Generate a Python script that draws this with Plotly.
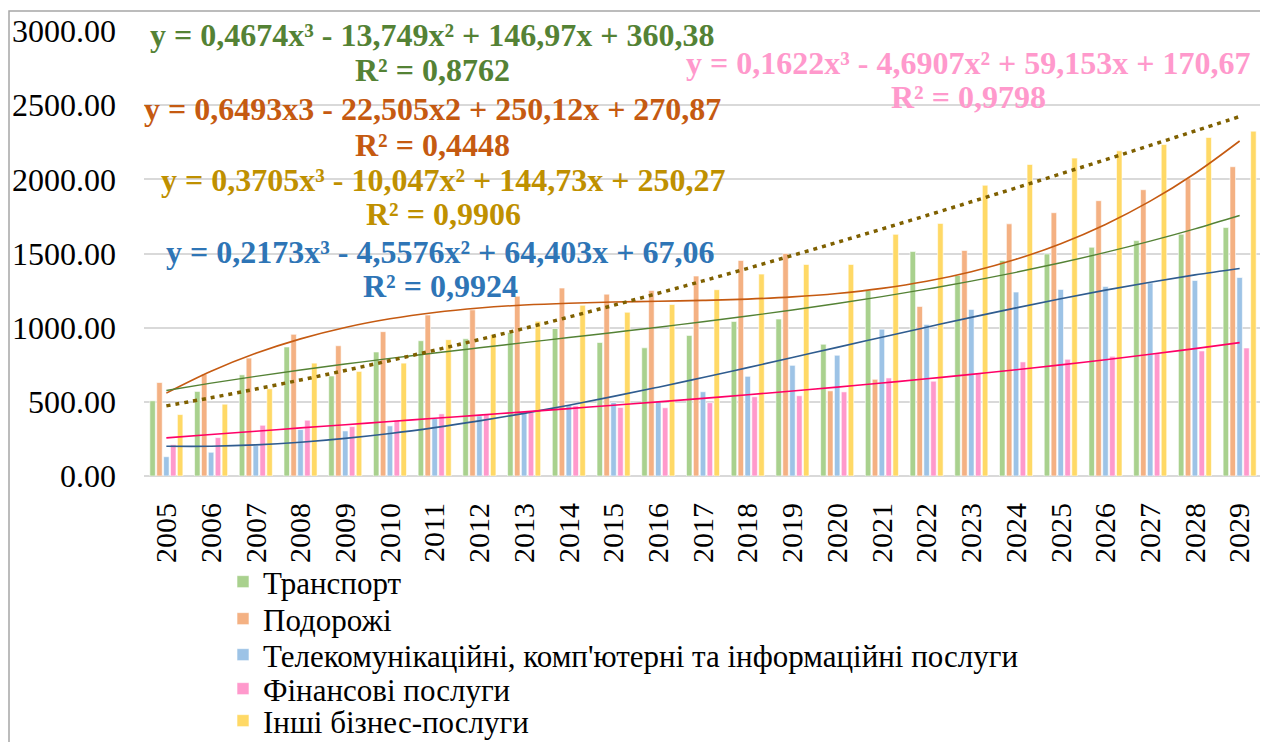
import numpy as np
import plotly.graph_objects as go

# ── data ─────────────────────────────────────────────────────────────────────

years = [str(y) for y in range(2005, 2030)]

transport = [507, 570, 682, 870, 674, 836, 912, 925, 968, 995, 900, 864, 948,
             1042, 1058, 888, 1251, 1513, 1352, 1453, 1497, 1542, 1587, 1630, 1675]
travel = [630, 687, 795, 955, 878, 973, 1085, 1120, 1212, 1267, 1226, 1251, 1348,
          1453, 1500, 574, 652, 1143, 1520, 1700, 1775, 1856, 1930, 2009, 2085]
telecom = [130, 160, 205, 313, 304, 338, 388, 405, 433, 478, 496, 505, 568,
           672, 746, 814, 990, 1022, 1123, 1240, 1258, 1278, 1302, 1318, 1338]
finance = [211, 259, 342, 376, 333, 376, 419, 417, 428, 473, 462, 460, 494,
           534, 541, 567, 661, 639, 692, 769, 787, 807, 825, 843, 863]
business = [414, 484, 588, 761, 705, 761, 919, 953, 1043, 1151, 1104, 1156, 1256,
            1361, 1426, 1426, 1629, 1703, 1960, 2100, 2143, 2192, 2235, 2282, 2325]

series_names = [
    "Транспорт",
    "Подорожі",
    "Телекомунікаційні, комп'ютерні та інформаційні послуги",
    "Фінансові послуги",
    "Інші бізнес-послуги",
]

# equation labels as printed on the chart
eq_labels = [
    ("y = 0,4674x³ - 13,749x² + 146,97x + 360,38", "R² = 0,8762"),
    ("y = 0,6493x3 - 22,505x2 + 250,12x + 270,87", "R² = 0,4448"),
    ("y = 0,3705x³ - 10,047x² + 144,73x + 250,27", "R² = 0,9906"),
    ("y = 0,2173x³ - 4,5576x² + 64,403x + 67,06", "R² = 0,9924"),
    ("y = 0,1622x³ - 4,6907x² + 59,153x + 170,67", "R² = 0,9798"),
]

# ── styling ──────────────────────────────────────────────────────────────────

FONT = "Liberation Serif, Times New Roman, serif"
BAR_COLORS = ["#A9D18E", "#F4B183", "#9DC3E6", "#FF99CC", "#FFD966"]
TREND_COLORS = ["#548235", "#C55A11", "#2F5C8F", "#FF0066", "#7F6000"]
TEXT_COLORS = ["#548235", "#C55A11", "#BF9000", "#2E75B6", "#FF99CC"]

# the page body adds an 8px offset, so the figure is 8px smaller than the window
OFF = 8
W, H = 1268 - OFF, 742 - OFF
L, R, T, B = 144 - OFF, 6, 31 - OFF, 742 - 476
PW, PH = W - L - R, H - T - B


def px(x):
    """window x pixel -> paper x"""
    return (x - OFF - L) / PW


def py(y):
    """window y pixel -> paper y"""
    return (H - B - (y - OFF)) / PH


fig = go.Figure()

all_series = [transport, travel, telecom, finance, business]
legend_ids = ["legend", "legend2", "legend3", "legend4", "legend5"]
for name, vals, col, lg in zip(series_names, all_series, BAR_COLORS, legend_ids):
    fig.add_trace(go.Bar(
        name=name, x=years, y=vals, legend=lg,
        marker=dict(color=col, line=dict(color="white", width=0.6)),
    ))

# cubic trend lines (fit of each series); business one is dotted, drawn last
xs = np.arange(1, len(years) + 1)
trend_order = [(2, "solid", 1.6), (3, "solid", 1.6), (1, "solid", 1.6),
               (0, "solid", 1.4), (4, "4px,5px", 3.5)]
for si, dash, w in trend_order:
    coef = np.polyfit(xs, all_series[si], 3)
    fig.add_trace(go.Scatter(
        x=years, y=np.polyval(coef, xs), mode="lines",
        line=dict(color=TREND_COLORS[si], width=w, dash=dash, shape="spline"),
        showlegend=False, hoverinfo="skip",
    ))

# equation labels
eq_pos = [(432, 35, 70), (433, 109, 145), (443, 180, 214), (440, 252, 286), (968, 63, 97)]
for (eq, r2), (cx, y1, y2), col in zip(eq_labels, eq_pos, TEXT_COLORS):
    for txt, yy in ((eq, y1), (r2, y2)):
        fig.add_annotation(
            text=f"<b>{txt}</b>", xref="paper", yref="paper",
            x=px(cx), y=py(yy), xanchor="center", yanchor="middle",
            showarrow=False, font=dict(family=FONT, size=32, color=col),
        )

# outer chart frame
fig.add_shape(type="rect", xref="paper", yref="paper",
              x0=px(9), x1=px(1262), y0=py(760), y1=py(11),
              line=dict(color="#A6A6A6", width=1.5), fillcolor="rgba(0,0,0,0)")

# one legend per series, stacked under the axis
legend_y = [582, 619, 655, 689, 721]
legends = {}
for lg, yy in zip(legend_ids, legend_y):
    legends[lg] = dict(orientation="v", x=px(223), y=py(yy), xanchor="left",
                       yanchor="middle", font=dict(size=31), itemwidth=30,
                       bgcolor="rgba(0,0,0,0)")

fig.update_layout(
    width=W, height=H,
    barmode="group", bargap=0.23, bargroupgap=0.2,
    margin=dict(l=L, r=R, t=T, b=B, autoexpand=False),
    paper_bgcolor="#FFFFFF", plot_bgcolor="#FFFFFF",
    font=dict(family=FONT, size=28, color="#000000"),
    xaxis=dict(type="category", tickangle=-90, showgrid=False, showline=False,
               ticks="", tickfont=dict(size=30), ticklabelstandoff=20,
               automargin=False),
    yaxis=dict(range=[0, 3000], dtick=500, tickformat=".2f", gridcolor="#D9D9D9",
               gridwidth=1.5, zeroline=True, zerolinecolor="#D9D9D9", zerolinewidth=1.5,
               showline=False, ticks="", tickfont=dict(size=32), ticklabelstandoff=27,
               automargin=False),
    showlegend=True,
    **legends,
)

fig.write_html("out.html")
